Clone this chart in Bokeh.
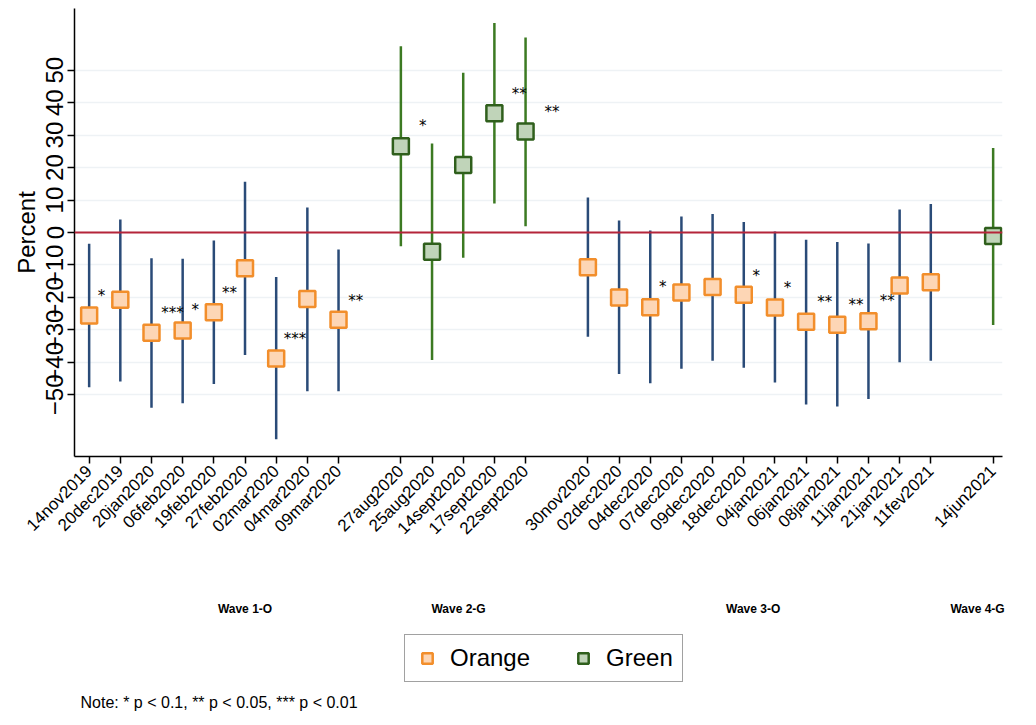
import math
from bokeh.plotting import figure
from bokeh.layouts import column
from bokeh.models import (ColumnDataSource, Legend, LegendItem, FixedTicker, Span,
                          LinearAxis, Label)
from bokeh.core.properties import value
from bokeh.embed import file_html
from bokeh.resources import INLINE

dates = ["14nov2019", "20dec2019", "20jan2020", "06feb2020", "19feb2020", "27feb2020",
         "02mar2020", "04mar2020", "09mar2020",
         "27aug2020", "25aug2020", "14sept2020", "17sept2020", "22sept2020",
         "30nov2020", "02dec2020", "04dec2020", "07dec2020", "09dec2020", "18dec2020",
         "04jan2021", "06jan2021", "08jan2021", "11jan2021", "21jan2021", "11fev2021",
         "14jun2021"]
xpos = [0, 1, 2, 3, 4, 5, 6, 7, 8,
        10, 11, 12, 13, 14,
        16, 17, 18, 19, 20, 21, 22, 23, 24, 25, 26, 27,
        29]
group = ["Orange"] * 9 + ["Green"] * 5 + ["Orange"] * 12 + ["Green"]
est = [-25.6, -20.7, -30.9, -30.2, -24.6, -11.0, -38.8, -20.5, -26.9,
       26.6, -5.9, 20.8, 36.7, 31.1,
       -10.7, -20.0, -23.0, -18.5, -16.8, -19.2, -23.1, -27.5, -28.4, -27.3, -16.3, -15.3,
       -1.1]
lo = [-47.7, -45.9, -54.0, -52.6, -46.7, -37.7, -63.7, -48.9, -48.9,
      -4.2, -39.3, -7.8, 8.9, 1.9,
      -32.1, -43.6, -46.4, -42.0, -39.5, -41.7, -46.2, -53.0, -53.6, -51.3, -40.0, -39.5,
      -28.5]
hi = [-3.5, 4.0, -7.9, -8.1, -2.5, 15.6, -13.7, 7.7, -5.2,
      57.4, 27.4, 49.2, 64.5, 60.1,
      10.8, 3.7, 0.6, 4.9, 5.7, 3.2, 0.3, -2.2, -2.9, -3.4, 7.1, 8.8,
      26.0]

star_x = [0.4, 2.67, 3.4, 4.5, 6.6, 8.55, 10.7, 13.8, 14.85, 18.4, 21.4, 22.4, 23.6, 24.6, 25.6]
star_y = [-19.5, -24.8, -24.0, -18.5, -32.8, -21.0, 32.7, 42.7, 37.0, -16.7, -13.3, -17.0, -21.3, -22.2, -21.0]
star_txt = ["*", "***", "*", "**", "***", "**", "*", "**", "**", "*", "*", "*", "**", "**", "**"]

waves = ["Wave 1-O", "Wave 2-G", "Wave 3-O", "Wave 4-G"]
wave_x = [5.0, 11.85, 21.3, 28.5]

ORANGE_LINE, ORANGE_FILL = "#f28e2b", "#fdd6b5"
GREEN_LINE, GREEN_FILL = "#2f5f1c", "#c0d4b9"
BAR_BLUE, BAR_GREEN = "#2a4b78", "#3c7a22"

p = figure(frame_width=928, frame_height=448, x_range=(-0.47, 29.3), y_range=(-69, 69),
           output_backend="svg", toolbar_location=None,
           min_border_left=74, min_border_top=8, min_border_right=10, min_border_bottom=0)
p.outline_line_color = None
p.xgrid.grid_line_color = None
p.ygrid.grid_line_color = "#eef2f5"
p.ygrid.grid_line_width = 1.5

p.add_layout(Span(location=0, dimension="width", line_color="#b5253a", line_width=2))

o_idx = [i for i, g in enumerate(group) if g == "Orange"]
g_idx = [i for i, g in enumerate(group) if g == "Green"]


def src(idx):
    return ColumnDataSource(dict(x=[xpos[i] for i in idx], y=[est[i] for i in idx],
                                 lo=[lo[i] for i in idx], hi=[hi[i] for i in idx]))


so, sg = src(o_idx), src(g_idx)
p.segment(x0="x", x1="x", y0="lo", y1="hi", source=so, line_color=BAR_BLUE, line_width=2.5)
p.segment(x0="x", x1="x", y0="lo", y1="hi", source=sg, line_color=BAR_GREEN, line_width=2.5)
p.scatter("x", "y", source=so, marker="square", size=16,
          fill_color=ORANGE_FILL, line_color=ORANGE_LINE, line_width=2.5)
p.scatter("x", "y", source=sg, marker="square", size=16,
          fill_color=GREEN_FILL, line_color=GREEN_LINE, line_width=2.5)

p.text(x=star_x, y=star_y, text=star_txt, text_font=value("DejaVu Sans"),
       text_font_size="15px", text_align="center", text_baseline="middle", text_color="black")

p.yaxis.ticker = FixedTicker(ticks=[-50, -40, -30, -20, -10, 0, 10, 20, 30, 40, 50])
p.yaxis.major_label_orientation = "vertical"
p.yaxis.major_label_text_font_size = "24px"
p.yaxis.major_label_text_font = "Liberation Sans"
p.yaxis.major_label_text_color = "black"
p.yaxis.axis_label = "Percent"
p.yaxis.axis_label_text_font_style = "normal"
p.yaxis.axis_label_text_font_size = "24px"
p.yaxis.axis_label_text_font = "Liberation Sans"
p.yaxis.axis_label_text_color = "black"
p.yaxis.minor_tick_line_color = None
p.yaxis.major_tick_out = 7
p.yaxis.major_tick_in = 0
p.yaxis.axis_label_standoff = 4
p.yaxis.major_label_standoff = 4

p.xaxis.ticker = FixedTicker(ticks=xpos)
p.xaxis.major_label_overrides = {x: d for x, d in zip(xpos, dates)}
p.xaxis.major_label_orientation = math.pi / 4
p.xaxis.major_label_text_font_size = "17px"
p.xaxis.major_label_text_font = "Liberation Sans"
p.xaxis.major_label_text_color = "black"
p.xaxis.minor_tick_line_color = None
p.xaxis.major_tick_out = 7
p.xaxis.major_tick_in = 0
for ax in (p.xaxis, p.yaxis):
    ax.axis_line_width = 1.5
    ax.major_tick_line_width = 1.5

wave_axis = LinearAxis(ticker=FixedTicker(ticks=wave_x),
                       major_label_overrides={x: w for x, w in zip(wave_x, waves)})
wave_axis.axis_line_color = None
wave_axis.major_tick_line_color = None
wave_axis.minor_tick_line_color = None
wave_axis.major_label_text_font_size = "12px"
wave_axis.major_label_text_font_style = "bold"
wave_axis.major_label_text_font = "Liberation Sans"
wave_axis.major_label_text_color = "black"
wave_axis.major_label_standoff = 48
p.add_layout(wave_axis, "below")

# legend + note in a strip under the chart; the series are drawn again here,
# outside this strip's range, only so the legend has glyphs to show
lf = figure(width=1020, height=100, x_range=(100, 101), y_range=(100, 101),
            output_backend="svg", toolbar_location=None,
            min_border=0, outline_line_color=None)
lf.axis.visible = False
lf.grid.visible = False
lo_r = lf.scatter("x", "y", source=so, marker="square", size=16,
                  fill_color=ORANGE_FILL, line_color=ORANGE_LINE, line_width=2.5)
lg_r = lf.scatter("x", "y", source=sg, marker="square", size=16,
                  fill_color=GREEN_FILL, line_color=GREEN_LINE, line_width=2.5)
legend = Legend(items=[LegendItem(label="Orange", renderers=[lo_r]),
                       LegendItem(label="Green", renderers=[lg_r])],
                orientation="horizontal", location=(330, 36))
legend.label_text_font_size = "24px"
legend.label_text_font = "Liberation Sans"
legend.label_text_color = "black"
legend.border_line_color = "#444444"
legend.border_line_width = 1
legend.glyph_width = 26
legend.glyph_height = 26
legend.label_standoff = 10
legend.spacing = 40
legend.padding = 9
legend.margin = 0
lf.add_layout(legend, "center")
lf.add_layout(Label(x=6, y=8, x_units="screen", y_units="screen",
                    text="Note: * p < 0.1, ** p < 0.05, *** p < 0.01",
                    text_font_size="16px", text_font="Liberation Sans", text_color="black"))

open("out.html", "w").write(file_html(column(p, lf, spacing=0), INLINE))
